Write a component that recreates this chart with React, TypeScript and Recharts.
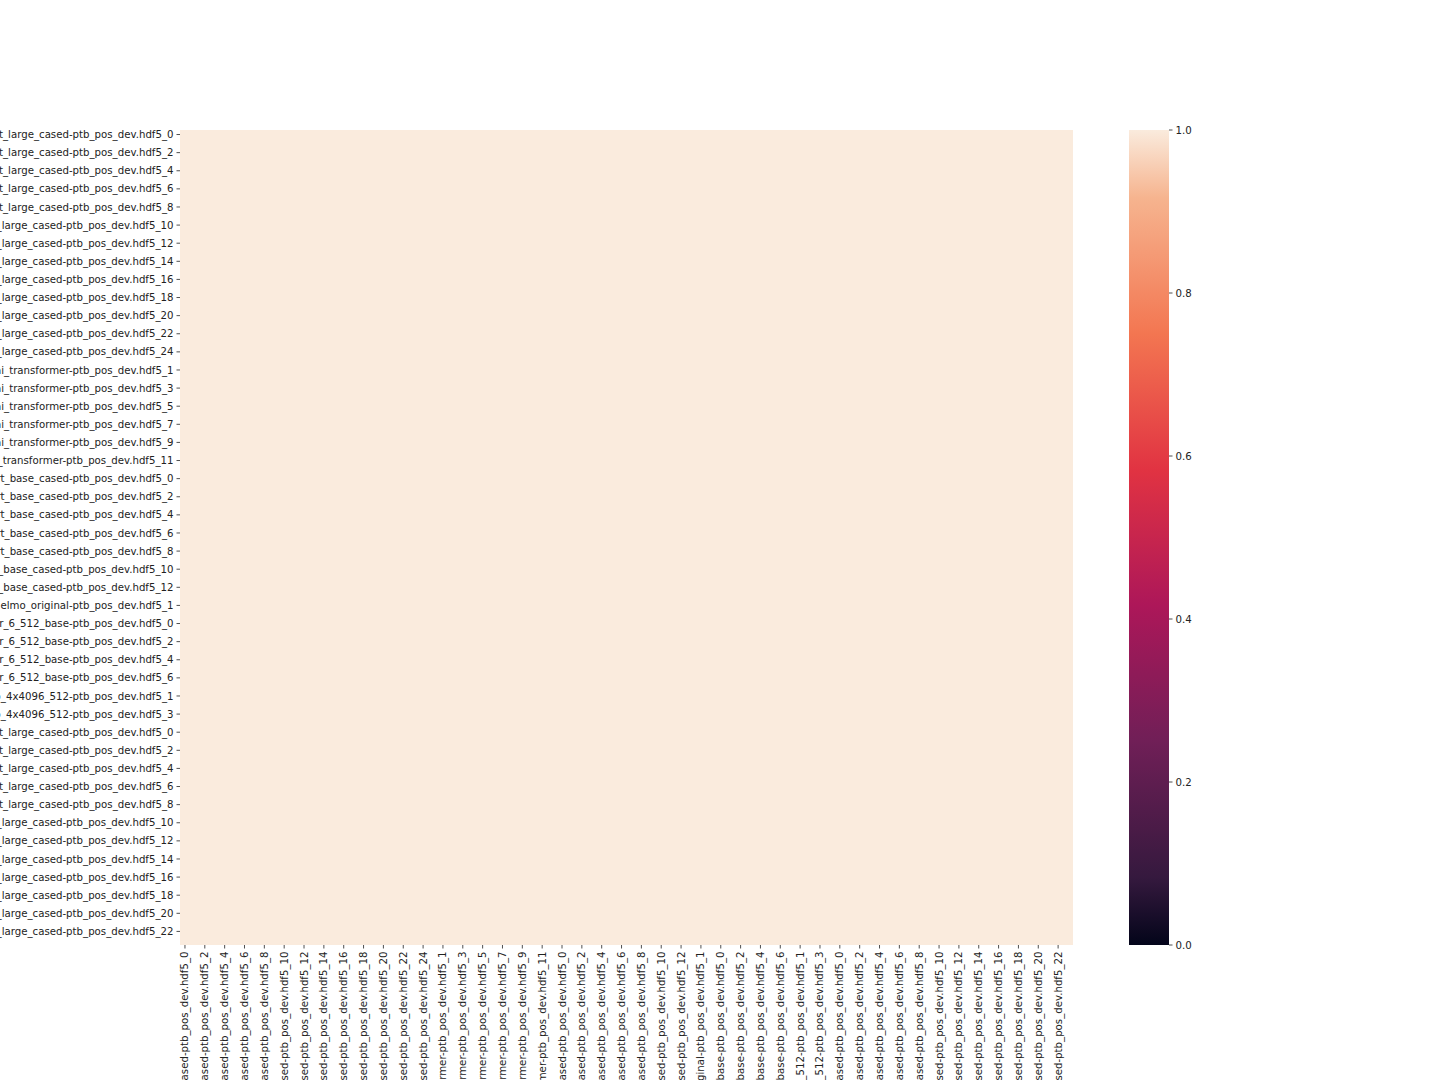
import {
  Bar,
  BarChart,
  ComposedChart,
  Scatter,
  XAxis,
  YAxis,
} from "recharts";

// representation files compared in the heatmap (one row / column per layer)
const MODELS = [
  "bert_large_cased",
  "openai_transformer",
  "bert_base_cased",
  "elmo_original",
  "elmo_transformer_6_512_base",
  "elmo_4x4096_512",
  "xlnet_large_cased",
];
const LAYERS = [25, 13, 13, 3, 7, 5, 24];
const SUFFIX = "-ptb_pos_dev.hdf5_";

// similarity read per model block: every cell sits at the top of the scale
const SIMILARITY: number[][] = [
  [1, 1, 1, 1, 1, 1, 1],
  [1, 1, 1, 1, 1, 1, 1],
  [1, 1, 1, 1, 1, 1, 1],
  [1, 1, 1, 1, 1, 1, 1],
  [1, 1, 1, 1, 1, 1, 1],
  [1, 1, 1, 1, 1, 1, 1],
  [1, 1, 1, 1, 1, 1, 1],
];

const CBAR_TICKS = [0, 0.2, 0.4, 0.6, 0.8, 1.0];

// seaborn "rocket"
const ROCKET: [number, string][] = [
  [0, "#03051a"],
  [0.083, "#35193e"],
  [0.25, "#701f57"],
  [0.417, "#ad1759"],
  [0.583, "#e13342"],
  [0.75, "#f37651"],
  [0.917, "#f6b48f"],
  [1, "#faebdd"],
];

const labels: string[] = [];
const groupOf: number[] = [];
MODELS.forEach((m, g) => {
  for (let l = 0; l < LAYERS[g]; l++) {
    labels.push(`${m}${SUFFIX}${l}`);
    groupOf.push(g);
  }
});
const N = labels.length;

const cells: { x: number; y: number; v: number }[] = [];
for (let i = 0; i < N; i++) {
  for (let j = 0; j < N; j++) {
    cells.push({ x: j + 0.5, y: i + 0.5, v: SIMILARITY[groupOf[i]][groupOf[j]] });
  }
}

const ticks = labels.map((_, i) => i + 0.5).filter((_, i) => i % 2 === 0);

function hexToRgb(h: string) {
  const n = parseInt(h.slice(1), 16);
  return [(n >> 16) & 255, (n >> 8) & 255, n & 255];
}

function rocket(v: number) {
  for (let k = 1; k < ROCKET.length; k++) {
    const [p1, c1] = ROCKET[k];
    const [p0, c0] = ROCKET[k - 1];
    if (v <= p1) {
      const t = (v - p0) / (p1 - p0);
      const a = hexToRgb(c0);
      const b = hexToRgb(c1);
      const c = a.map((x, i) => Math.round(x + (b[i] - x) * t));
      return `rgb(${c[0]},${c[1]},${c[2]})`;
    }
  }
  return ROCKET[ROCKET.length - 1][1];
}

const FONT = { fontFamily: "DejaVu Sans", fontSize: 10.2, fill: "#222" };
const TICK_LINE = { stroke: "#222", strokeWidth: 0.8 };

const PLOT_W = 893;
const PLOT_H = 815;
const CELL_W = PLOT_W / N;
const CELL_H = PLOT_H / N;

function Cell(props: any) {
  const { cx, cy, payload } = props;
  return (
    <rect
      x={cx - CELL_W / 2}
      y={cy - CELL_H / 2}
      width={CELL_W}
      height={CELL_H}
      fill={rocket(payload.v)}
      shapeRendering="crispEdges"
    />
  );
}

function RotatedTick(props: any) {
  const { x, y, payload } = props;
  return (
    <text
      x={x}
      y={y}
      transform={`rotate(-90, ${x}, ${y})`}
      textAnchor="end"
      dominantBaseline="central"
      {...FONT}
    >
      {labels[Math.floor(payload.value)]}
    </text>
  );
}

export default function App() {
  return (
    <div style={{ position: "fixed", inset: 0, overflow: "hidden", background: "#fff" }}>
      <div style={{ position: "absolute", left: -200, top: 0 }}>
        <ComposedChart
          width={1300}
          height={1080}
          margin={{ top: 130, right: 27, bottom: 0, left: 0 }}
        >
          <XAxis
            type="number"
            dataKey="x"
            domain={[0, N]}
            ticks={ticks}
            interval={0}
            height={135}
            axisLine={false}
            tickLine={TICK_LINE}
            tickSize={3.5}
            tickMargin={3}
            tick={<RotatedTick />}
          />
          <YAxis
            type="number"
            dataKey="y"
            domain={[0, N]}
            reversed
            ticks={ticks}
            interval={0}
            width={380}
            axisLine={false}
            tickLine={TICK_LINE}
            tickSize={3.5}
            tickMargin={3}
            tick={FONT}
            tickFormatter={(v: number) => labels[Math.floor(v)]}
          />
          <Scatter data={cells} shape={<Cell />} isAnimationActive={false} />
        </ComposedChart>
      </div>
      <div style={{ position: "absolute", left: 1129, top: 120 }}>
        <BarChart
          width={90}
          height={835}
          data={[{ k: "cbar", v: 1 }]}
          margin={{ top: 10, right: 0, bottom: 10, left: 0 }}
          barCategoryGap={0}
        >
          <defs>
            <linearGradient id="rocketGrad" x1="0" y1="1" x2="0" y2="0">
              {ROCKET.map(([p, c]) => (
                <stop key={p} offset={p} stopColor={c} />
              ))}
            </linearGradient>
          </defs>
          <XAxis dataKey="k" hide />
          <YAxis
            orientation="right"
            type="number"
            domain={[0, 1]}
            ticks={CBAR_TICKS}
            interval={0}
            width={50}
            axisLine={false}
            tickLine={TICK_LINE}
            tickSize={3.5}
            tickMargin={3}
            tick={FONT}
            tickFormatter={(v: number) => v.toFixed(1)}
          />
          <Bar dataKey="v" fill="url(#rocketGrad)" isAnimationActive={false} />
        </BarChart>
      </div>
    </div>
  );
}
